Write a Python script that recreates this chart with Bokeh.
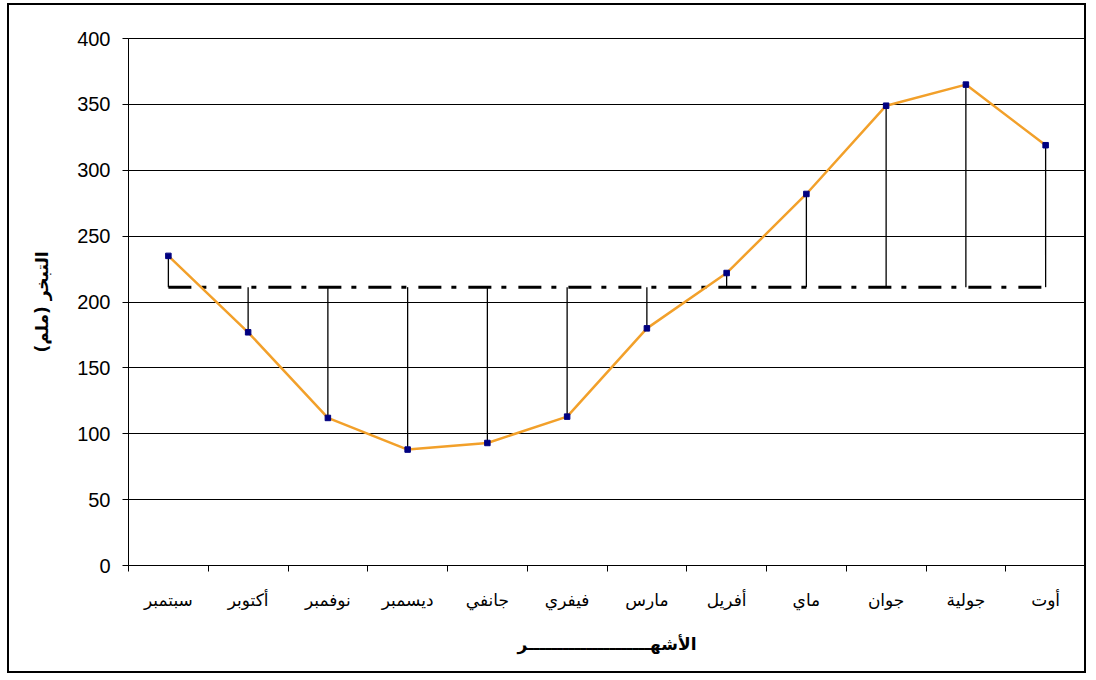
from bokeh.plotting import figure
from bokeh.models import FixedTicker, Range1d
from bokeh.embed import file_html
from bokeh.resources import INLINE

# ---- data ----
months = ["سبتمبر", "أكتوبر", "نوفمبر", "ديسمبر", "جانفي", "فيفري",
          "مارس", "أفريل", "ماي", "جوان", "جولية", "أوت"]
evaporation = [235, 177, 112, 88, 93, 113, 180, 222, 282, 349, 365, 319]
y_ticks = [0, 50, 100, 150, 200, 250, 300, 350, 400]
x_title = "الأشهـــــــــــــــــــــر"
y_title = "التبخر (ملم)"

mean_value = sum(evaporation) / len(evaporation)
n = len(months)
xc = [i + 0.5 for i in range(n)]
boundaries = list(range(n + 1))

p = figure(width=1079, height=670,
           x_range=Range1d(0, n), y_range=Range1d(y_ticks[0], y_ticks[-1]),
           output_backend="svg", toolbar_location=None,
           min_border_left=119, min_border_right=3,
           min_border_top=33, min_border_bottom=110)
p.styles = {"border": "2px solid black", "margin-left": "7px", "margin-top": "3px"}
p.outline_line_color = "black"
p.outline_line_width = 1
p.background_fill_color = "white"
p.border_fill_color = "white"

# x axis
p.xaxis.ticker = FixedTicker(ticks=xc, minor_ticks=boundaries)
p.xaxis.major_label_overrides = {xi: m for xi, m in zip(xc, months)}
p.xaxis.major_tick_line_color = None
p.xaxis.minor_tick_line_color = "black"
p.xaxis.minor_tick_in = 0
p.xaxis.minor_tick_out = 6
p.xaxis.axis_line_color = "black"
p.xaxis.major_label_text_font = "DejaVu Sans"
p.xaxis.major_label_text_font_size = "17px"
p.xaxis.major_label_text_color = "black"
p.xaxis.major_label_standoff = 18
p.xaxis.axis_label = x_title
p.xaxis.axis_label_text_font = "DejaVu Sans"
p.xaxis.axis_label_text_font_size = "17px"
p.xaxis.axis_label_text_font_style = "bold"
p.xaxis.axis_label_text_color = "black"
p.xaxis.axis_label_standoff = 21

# y axis
p.yaxis.ticker = FixedTicker(ticks=y_ticks)
p.yaxis.major_tick_in = 0
p.yaxis.major_tick_out = 6
p.yaxis.major_tick_line_color = "black"
p.yaxis.minor_tick_line_color = None
p.yaxis.axis_line_color = "black"
p.yaxis.major_label_text_font = "Liberation Sans"
p.yaxis.major_label_text_font_size = "20px"
p.yaxis.major_label_text_color = "black"
p.yaxis.major_label_standoff = 12
p.yaxis.axis_label = y_title
p.yaxis.axis_label_text_font = "DejaVu Sans"
p.yaxis.axis_label_text_font_size = "17px"
p.yaxis.axis_label_text_font_style = "bold"
p.yaxis.axis_label_text_color = "black"
p.yaxis.axis_label_standoff = 22

p.xgrid.visible = False
p.ygrid.grid_line_color = "black"
p.ygrid.grid_line_width = 1

# drop lines to the mean
p.segment(x0=xc, y0=evaporation, x1=xc, y1=[mean_value] * n,
          line_color="black", line_width=1.3)
# mean line
p.line(x=[xc[0], xc[-1]], y=[mean_value, mean_value],
       line_color="black", line_width=3, line_dash="23 10 5 12")
# series
p.line(x=xc, y=evaporation, line_color="#F2A02A", line_width=2.5)
p.scatter(x=xc, y=evaporation, marker="square", size=5.5,
          fill_color="#000080", line_color="#000080")

open("out.html", "w").write(file_html(p, INLINE))
